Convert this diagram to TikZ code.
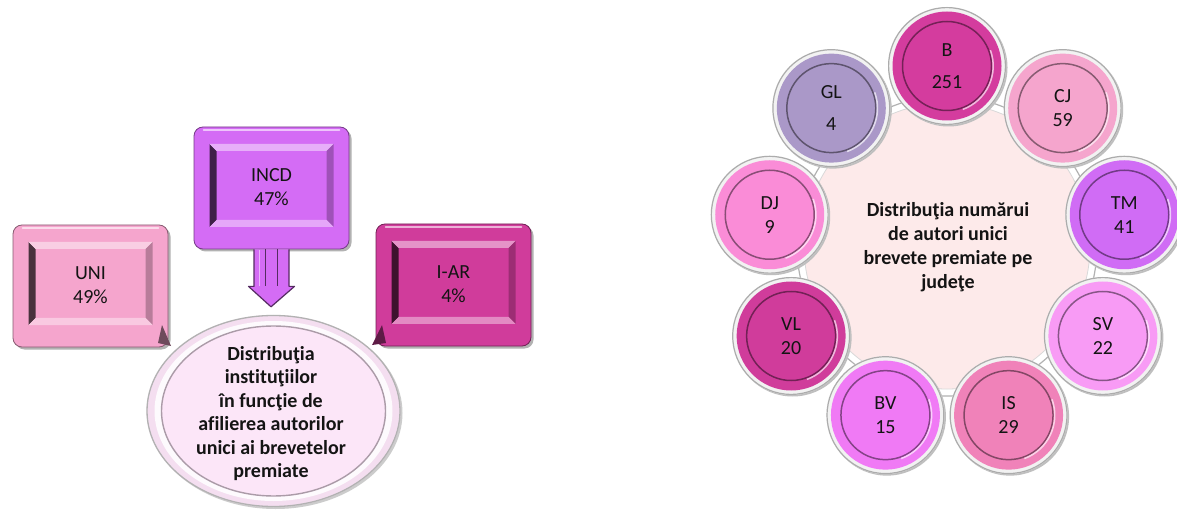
\documentclass[tikz,border=0pt]{standalone}
\usepackage{fontspec}
\setmainfont{Carlito}[Ligatures=NoCommon]
\usetikzlibrary{shapes.geometric,calc}

\definecolor{cUNI}{RGB}{245,165,205}
\definecolor{cINCD}{RGB}{212,108,245}
\definecolor{cIAR}{RGB}{208,60,155}
\definecolor{cB}{RGB}{212,60,158}
\definecolor{cGL}{RGB}{170,152,200}
\definecolor{cCJ}{RGB}{245,165,205}
\definecolor{cTM}{RGB}{208,108,245}
\definecolor{cSV}{RGB}{248,155,245}
\definecolor{cIS}{RGB}{240,130,185}
\definecolor{cBV}{RGB}{240,122,245}
\definecolor{cVL}{RGB}{208,60,155}
\definecolor{cDJ}{RGB}{250,140,215}
\definecolor{bgpink}{RGB}{253,234,234}
\definecolor{ellpink}{RGB}{252,230,248}
\definecolor{ellring}{RGB}{244,222,240}
\definecolor{txt}{RGB}{20,20,20}

\tikzset{
  outerbox/.style={rectangle, rounded corners=9pt, minimum width=155pt, minimum height=122pt, inner sep=0pt, line width=0.8pt},
  boxtext/.style={align=center, text=txt, inner sep=0pt, font=\fontsize{20}{24}\selectfont},
  disctext/.style={align=center, text=txt, inner sep=0pt, font=\fontsize{20}{24}\selectfont},
  titletext/.style={align=center, text=txt, inner sep=0pt, font=\bfseries\fontsize{20}{23.4}\selectfont},
}

\newcommand{\bevbox}[5]{%
  \fill[black!30, rounded corners=9pt] (#2-75,#3-63.5) rectangle (#2+80,#3+58.5);
  \node[outerbox, fill=#4, draw=#4!55!black] (#1) at (#2,#3) {};
  \draw[#4!40!white, line width=1.5pt, line cap=round] (#2-68,#3+58) -- (#2+68,#3+58);
  \fill[#4!30!black] (#2-62,#3-39) -- (#2-62,#3+44) -- (#2-55,#3+37) -- (#2-55,#3-32) -- cycle;
  \fill[#4!55!white] (#2-62,#3+44) -- (#2+62,#3+44) -- (#2+55,#3+37) -- (#2-55,#3+37) -- cycle;
  \fill[#4!75!black] (#2+62,#3+44) -- (#2+62,#3-39) -- (#2+55,#3-32) -- (#2+55,#3+37) -- cycle;
  \fill[#4!60!white] (#2-62,#3-39) -- (#2+62,#3-39) -- (#2+55,#3-32) -- (#2-55,#3-32) -- cycle;
  \node[boxtext] (#1t) at (#2,#3+1) {#5};
}

\newcommand{\mydisc}[4]{%
  \path (bigc.center) ++(#2:180) coordinate (#1c);
  \fill[black!25] ($(#1c)+(1.5,-1.5)$) circle (59);
  \fill[gray!10] (#1c) circle (59);
  \draw[gray!65, line width=1.2pt] (#1c) circle (58.4);
  \fill[#3] (#1c) circle (54.5);
  \draw[#3!55!black, line width=1.5pt] (#1c) circle (44.5);
  \draw[#3!35!white, line width=1.5pt] ($(#1c)+(-70:46.2)$) arc (-70:20:46.2);
  \node[disctext] (#1) at (#1c) {#4};
}

\begin{document}
\begin{tikzpicture}[x=1pt,y=1pt]
\fill[white] (0,0) rectangle (1177,509);
\useasboundingbox (0,0) rectangle (1177,509);

% ---------- left part ----------
\bevbox{uni}{90.5}{223}{cUNI}{UNI\\49\%}
\bevbox{iar}{453.5}{224}{cIAR}{I-AR\\4\%}
\bevbox{incd}{271.5}{321}{cINCD}{INCD\\47\%}

% callout tabs
\fill[cUNI!45!black] (162,184) -- (171,163) -- (158,166) -- cycle;
\fill[cIAR!45!black] (382,184) -- (372,164) -- (386,166) -- cycle;

% ellipse
\node[ellipse, minimum width=254pt, minimum height=192pt, inner sep=0pt] (ell) at (273.5,98) {};
\fill[black!20] ($(ell.center)+(2,-2)$) ellipse [x radius=127, y radius=96];
\fill[ellring] (ell.center) ellipse [x radius=127, y radius=96];
\draw[gray!60, line width=1.3pt] (ell.center) ellipse [x radius=126.5, y radius=95.5];
\fill[white!85!ellring] (ell.center) ellipse [x radius=119, y radius=90];
\fill[ellpink] (ell.center) ellipse [x radius=112, y radius=85];
\draw[ellring!70!black, line width=1.4pt] (ell.center) ellipse [x radius=112, y radius=85];
\node[titletext] (elltext) at (271,95.5) {Distribuţia\\instituţiilor\\în funcţie de\\afilierea autorilor\\unici ai brevetelor\\premiate};

% down arrow from INCD to ellipse
\coordinate (atip) at ($(ell.north)+(-2.5,8)$);
\path[fill=cINCD, draw=cINCD!40!black, line width=1.2pt, line join=round]
  ($(incd.south)+(-17.5,0)$) -- ($(incd.south)+(-17.5,-37)$) -- ($(incd.south)+(-23,-37)$)
  -- (atip) -- ($(incd.south)+(23,-37)$) -- ($(incd.south)+(17.5,-37)$)
  -- ($(incd.south)+(17.5,0)$);
\draw[cINCD!40!black, line width=1pt] ($(incd.south)+(-6,0)$) -- ($(incd.south)+(-6,-37)$)
  ($(incd.south)+(6,0)$) -- ($(incd.south)+(6,-37)$);
\draw[cINCD!50!white, line width=1pt] ($(incd.south)+(-12,-1)$) -- ($(incd.south)+(-12,-37)$);

% ---------- right part ----------
\node[circle, minimum size=300pt, inner sep=0pt, fill=white, draw=gray!60, line width=1.2pt] (bigc) at (947,263) {};
\fill[bgpink] (bigc.center) circle (143);
\draw[gray!30, line width=0.8pt] (bigc.center) circle (143);
\node[titletext, font=\bfseries\fontsize{20}{24}\selectfont] (bigtext) at (948,261.5) {Distribuţia numărui\\de autori unici\\brevete premiate pe\\judeţe};

\mydisc{dB}{90}{cB}{B\\[8pt]251}
\mydisc{dCJ}{50}{cCJ}{CJ\\59}
\mydisc{dTM}{10}{cTM}{TM\\41}
\mydisc{dSV}{-30}{cSV}{SV\\22}
\mydisc{dIS}{-70}{cIS}{IS\\29}
\mydisc{dBV}{-110}{cBV}{BV\\15}
\mydisc{dVL}{-150}{cVL}{VL\\20}
\mydisc{dDJ}{170}{cDJ}{DJ\\9}
\mydisc{dGL}{130}{cGL}{GL\\[8pt]4}
\end{tikzpicture}
\end{document}
